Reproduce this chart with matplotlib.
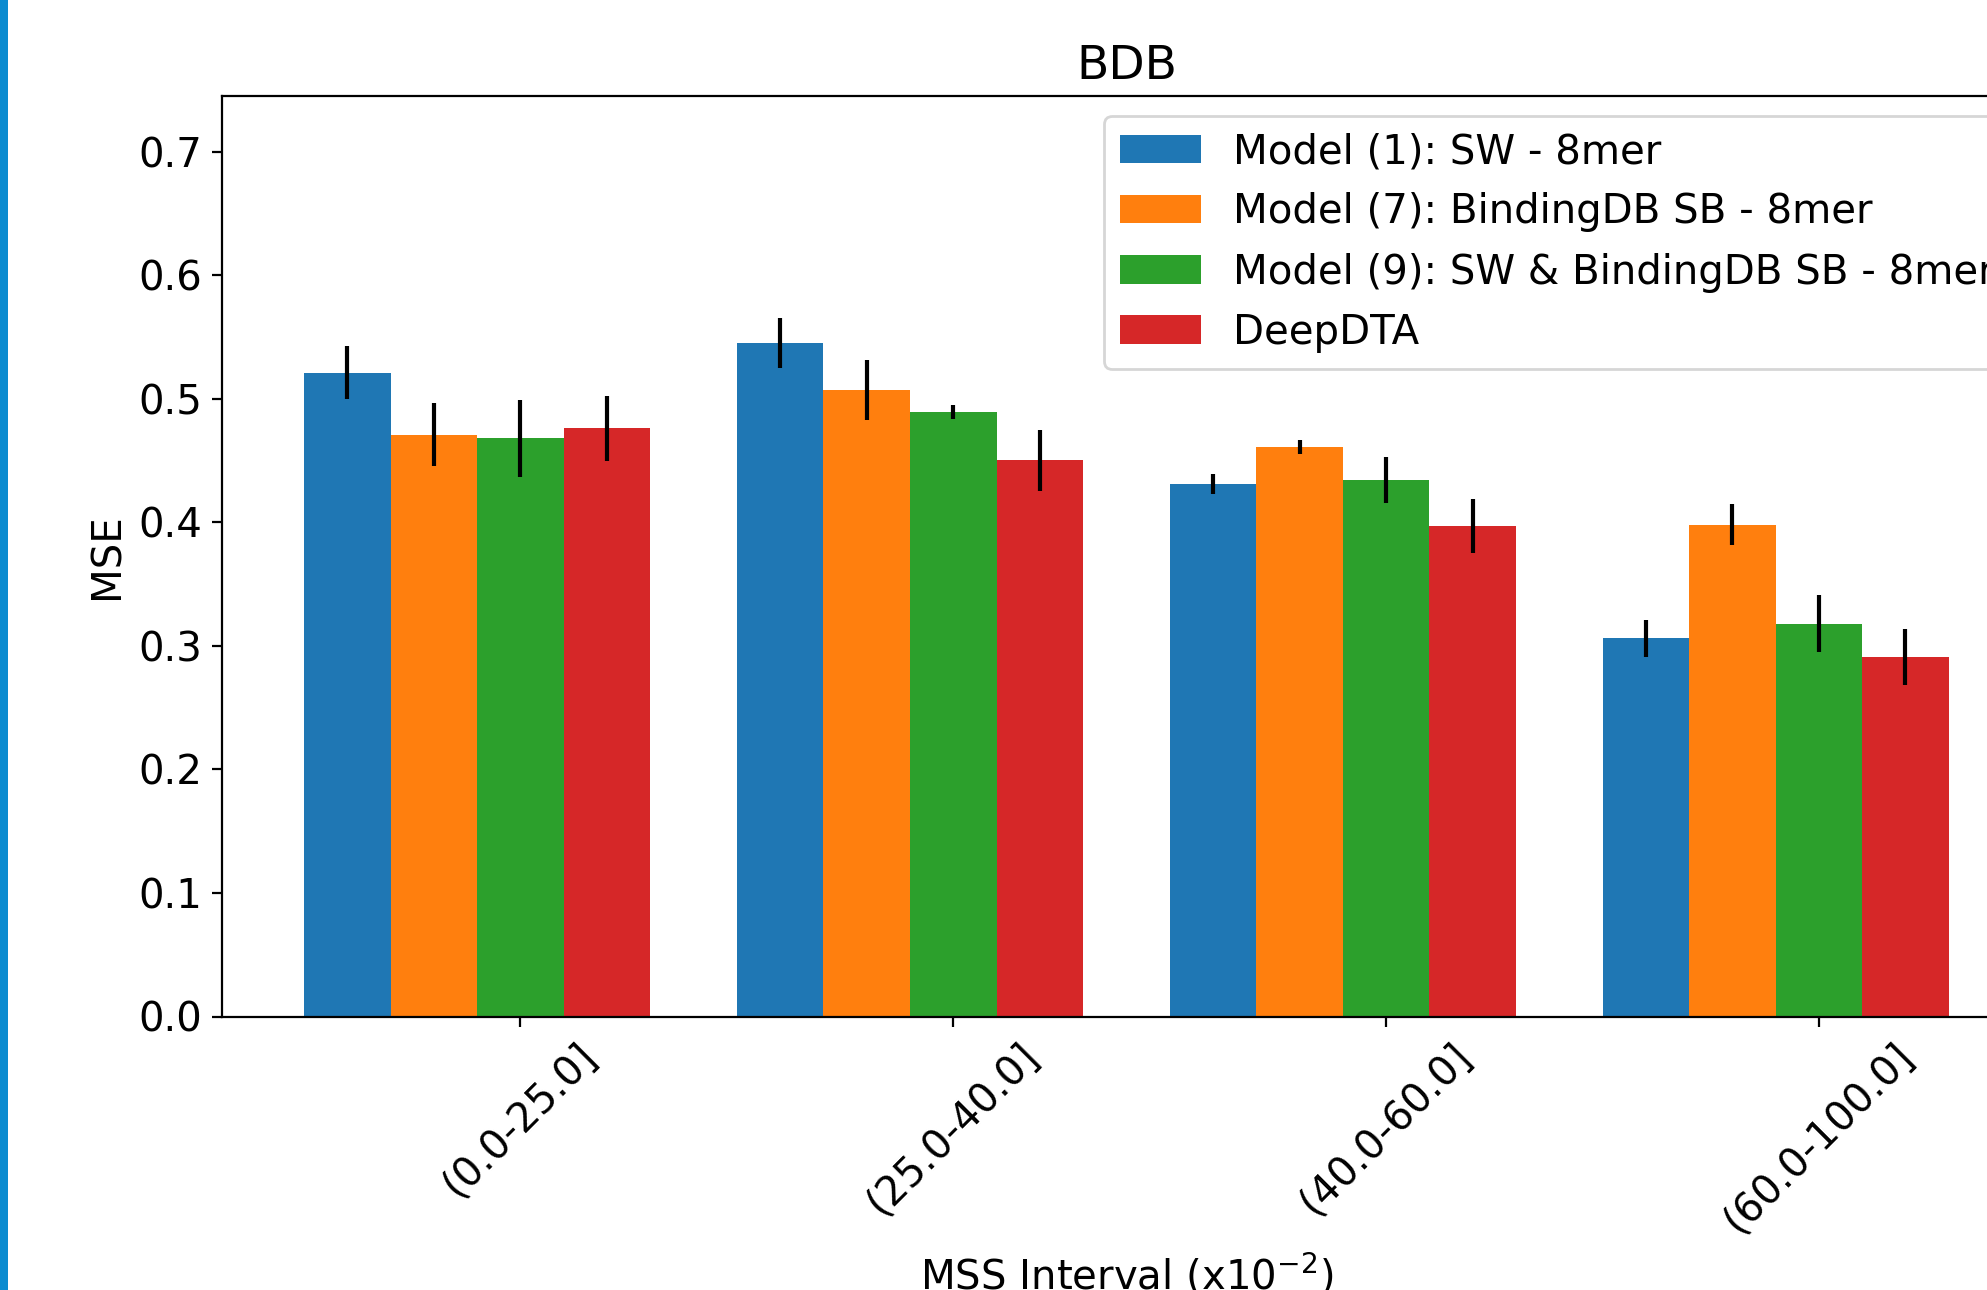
"""
MSE per MSS interval on BDB, grouped bars with error bars.
"""

import matplotlib
matplotlib.use('Agg')
import matplotlib.pyplot as plt
import numpy as np
from matplotlib.patches import Rectangle

# data
intervals = ['(0.0-25.0]', '(25.0-40.0]', '(40.0-60.0]', '(60.0-100.0]']
models = ['Model (1): SW - 8mer',
          'Model (7): BindingDB SB - 8mer',
          'Model (9): SW & BindingDB SB - 8mer',
          'DeepDTA']

mse_m1 = [0.521, 0.545, 0.431, 0.306]
mse_m7 = [0.471, 0.507, 0.461, 0.398]
mse_m9 = [0.468, 0.489, 0.434, 0.318]
mse_dd = [0.476, 0.450, 0.397, 0.291]

err_m1 = [0.0215, 0.020, 0.008, 0.015]
err_m7 = [0.0255, 0.024, 0.0057, 0.0167]
err_m9 = [0.031, 0.0057, 0.0185, 0.023]
err_dd = [0.0265, 0.025, 0.022, 0.0228]

colors = ['#1f77b4', '#ff7f0e', '#2ca02c', '#d62728']

fs = 14.5
W, H, dpi = 1987, 1290, 200

fig = plt.figure(figsize=(W/dpi, H/dpi), dpi=dpi)
# axes run off the right edge like the cropped original
ax = fig.add_axes([221.8/W, 1 - 1016.5/H, (2031 - 221.8)/W, (1016.5 - 96)/H])

# blue strip on the left border
fig.patches.append(Rectangle((0, 0), 7.5/W, 1, transform=fig.transFigure,
                             facecolor='#0b8bd0', edgecolor='none', zorder=10))

ind = np.arange(len(intervals))
w = 0.2
means = [mse_m1, mse_m7, mse_m9, mse_dd]
errs = [err_m1, err_m7, err_m9, err_dd]
for i in range(4):
    ax.bar(ind + (i - 2)*w, means[i], w, yerr=errs[i], color=colors[i],
           label=models[i], ecolor='black', error_kw=dict(lw=1.5))

ax.set_ylim(0, 0.745)
ax.set_xticks(ind)
ax.set_xticklabels(intervals, rotation=45, ha='center')
ax.set_yticks(np.arange(0, 0.71, 0.1))
ax.tick_params(labelsize=fs)

ax.set_ylabel('MSE', fontsize=fs)
ax.set_xlabel('MSS Interval (x10$^{-2}$)', fontsize=fs)
ax.set_title('BDB', fontsize=17)

ax.legend(loc='upper right', fontsize=fs)

plt.savefig('out.png', dpi=dpi)
